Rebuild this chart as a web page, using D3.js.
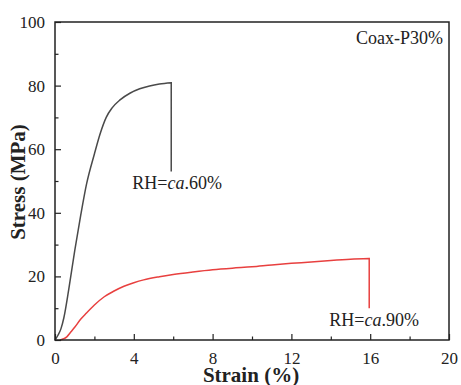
<!DOCTYPE html>
<html>
<head>
<meta charset="utf-8">
<script src="https://cdn.jsdelivr.net/npm/d3@7"></script>
<style>
  body { margin: 0; background: #fff; }
</style>
</head>
<body>
<svg id="chart" width="461" height="385"></svg>
<script>
// Data (last point of each series = end of the break drop)
const strain60 = [0, 0.15, 0.3, 0.45, 0.7, 1.0, 1.3, 1.6, 2.0, 2.3, 2.6, 2.9, 3.3, 3.8, 4.3, 4.8, 5.3, 5.9, 5.9];
const stress60 = [0, 1.5, 3.5, 7, 16, 28, 39, 49, 58.5, 65, 70, 73, 75.5, 77.6, 79.0, 79.9, 80.5, 80.9, 53];

const strain90 = [0.25, 0.4, 0.6, 0.8, 1.0, 1.3, 1.6, 2.0, 2.5, 3.0, 3.5, 4.0, 4.5, 5.3, 6, 7, 8, 9, 10, 11, 12, 13, 14, 15, 15.95, 15.95];
const stress90 = [0, 0.3, 1, 2.5, 4, 6.5, 8.5, 11, 13.6, 15.4, 16.9, 18.0, 18.9, 19.9, 20.6, 21.4, 22.1, 22.6, 23, 23.6, 24.1, 24.5, 25, 25.4, 25.6, 10];

const xTicks = [0, 4, 8, 12, 16, 20];
const yTicks = [0, 20, 40, 60, 80, 100];

const serif = "'Liberation Serif', 'Times New Roman', serif";
const width = 461, height = 385;
const margin = {top: 22, right: 12, bottom: 45, left: 55};
const innerWidth = width - margin.left - margin.right;
const innerHeight = height - margin.top - margin.bottom;

const svg = d3.select("#chart");
const innerChart = svg.append("g")
    .attr("transform", `translate(${margin.left},${margin.top})`);

const xScale = d3.scaleLinear().domain([0, 20]).range([0, innerWidth]);
const yScale = d3.scaleLinear().domain([0, 100]).range([innerHeight, 0]);

// Curves: smooth loading part + straight drop at break
const smooth = d3.line()
    .x(d => xScale(d[0]))
    .y(d => yScale(d[1]))
    .curve(d3.curveMonotoneX);
const straight = d3.line()
    .x(d => xScale(d[0]))
    .y(d => yScale(d[1]));

const drawSeries = (xs, ys, color) => {
    const pts = d3.zip(xs, ys);
    const n = pts.length;
    innerChart.append("path")
        .attr("d", smooth(pts.slice(0, n - 1)) + straight(pts.slice(n - 2)).replace(/^M/, "L"))
        .attr("fill", "none")
        .attr("stroke", color)
        .attr("stroke-width", 1.5)
        .attr("stroke-linejoin", "miter");
};

drawSeries(strain60, stress60, "#4a4a4a");
drawSeries(strain90, stress90, "#e8403f");

// Axes with inward ticks
const styleAxis = g => {
    g.attr("font-family", null);
    g.select(".domain").remove();
    g.selectAll("line").attr("stroke", "#222").attr("stroke-width", 1.2);
    g.selectAll("text")
        .attr("fill", "#222")
        .style("font-size", "17px")
        .style("font-family", serif);
};

innerChart.append("g")
    .attr("transform", `translate(0, ${innerHeight})`)
    .call(d3.axisBottom(xScale).tickValues(xTicks).tickSize(-6).tickPadding(12).tickFormat(d3.format("d")))
    .call(styleAxis);

innerChart.append("g")
    .attr("transform", `translate(0, ${innerHeight})`)
    .call(d3.axisBottom(xScale).tickValues([2, 6, 10, 14, 18]).tickSize(-3.5).tickFormat(""))
    .call(styleAxis);

innerChart.append("g")
    .call(d3.axisLeft(yScale).tickValues(yTicks).tickSize(-6).tickPadding(10).tickFormat(d3.format("d")))
    .call(styleAxis);

innerChart.append("g")
    .call(d3.axisLeft(yScale).tickValues([10, 30, 50, 70, 90]).tickSize(-3.5).tickFormat(""))
    .call(styleAxis);

// Frame
innerChart.append("rect")
    .attr("width", innerWidth)
    .attr("height", innerHeight)
    .attr("fill", "none")
    .attr("stroke", "#222")
    .attr("stroke-width", 1.5);

// Annotations
const addLabel = (x, y, parts) => {
    const t = innerChart.append("text")
        .attr("x", x)
        .attr("y", y)
        .attr("text-anchor", "middle")
        .attr("fill", "#222")
        .style("font-family", serif)
        .style("font-size", "18px");
    parts.forEach(([s, it]) => t.append("tspan").text(s).style("font-style", it ? "italic" : "normal"));
};

innerChart.append("text")
    .text("Coax-P30%")
    .attr("x", innerWidth - 6)
    .attr("y", 22)
    .attr("text-anchor", "end")
    .attr("fill", "#222")
    .style("font-family", serif)
    .style("font-size", "18px");

addLabel(xScale(6.2), yScale(47.5), [["RH=", false], ["ca", true], [".60%", false]]);
addLabel(xScale(16.2), yScale(4.3), [["RH=", false], ["ca", true], [".90%", false]]);

// Axis titles
svg.append("text")
    .text("Strain (%)")
    .attr("text-anchor", "middle")
    .attr("x", margin.left + innerWidth / 2 - 1)
    .attr("y", 382)
    .attr("fill", "#222")
    .style("font-family", serif)
    .style("font-weight", "bold")
    .style("font-size", "21px");

svg.append("text")
    .text("Stress (MPa)")
    .attr("text-anchor", "middle")
    .attr("transform", `translate(25, ${margin.top + innerHeight / 2 + 1}) rotate(-90)`)
    .attr("fill", "#222")
    .style("font-family", serif)
    .style("font-weight", "bold")
    .style("font-size", "21px");
</script>
</body>
</html>
